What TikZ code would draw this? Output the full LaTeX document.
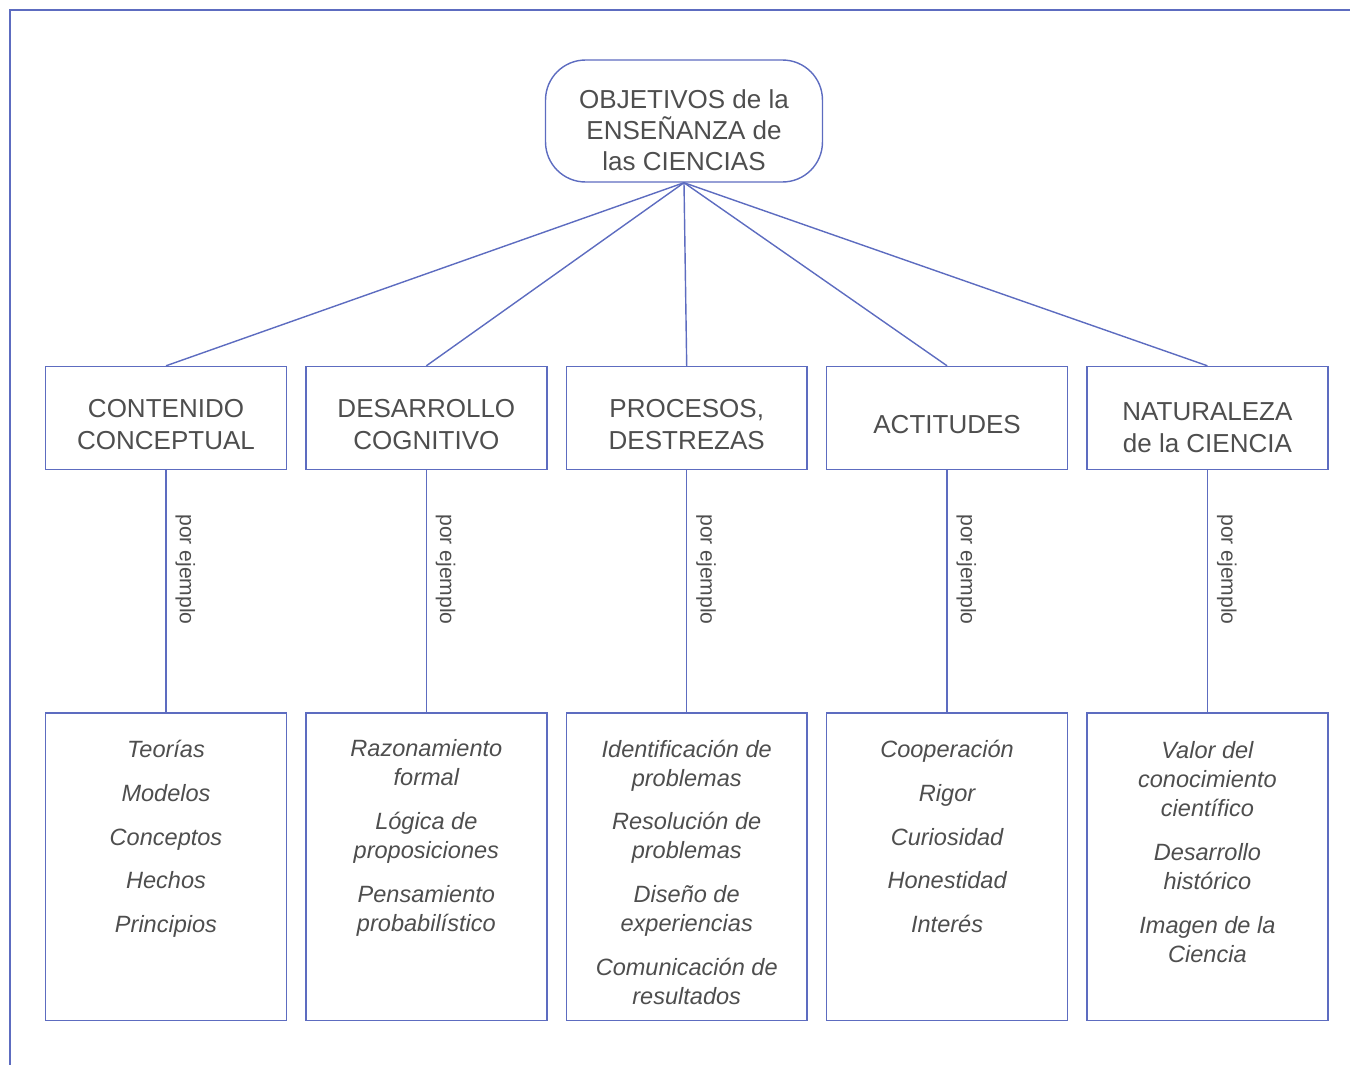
\documentclass[tikz,border=0pt]{standalone}
\usepackage{fontspec}
\setmainfont{Liberation Sans}
\usepackage{tikz}
\usetikzlibrary{positioning}
\definecolor{mapblue}{HTML}{5D6CC0}
\definecolor{mapgray}{HTML}{4E4E4E}
% taller first line, pushes the text a bit down in its box
\newcommand{\capgap}[1][18pt]{\rule{0pt}{#1}}

\begin{document}
\begin{tikzpicture}[x=0.02cm, y=-0.02cm,
      every path/.style={line width=0.8pt},
      goal/.style={draw=mapblue, rounded corners=0.8cm, minimum width=5.54cm,
                   minimum height=2.44cm, align=center, text=mapgray,
                   font=\fontsize{14.8}{17.6}\selectfont},
      area/.style={draw=mapblue, minimum width=4.82cm, minimum height=2.06cm,
                   align=center, text=mapgray, inner sep=0pt,
                   font=\fontsize{14.8}{18}\selectfont},
      ejbox/.style={draw=mapblue, minimum width=4.82cm, minimum height=6.16cm},
      ejtext/.style={align=center, text=mapgray, inner sep=0pt,
                     font=\fontsize{13.4}{16.4}\selectfont\itshape},
      ejlabel/.style={rotate=-90, anchor=south, inner sep=5pt, text=mapgray,
                      font=\fontsize{12}{14}\selectfont},
      link/.style={draw=mapblue}
    ]
    \useasboundingbox (0,0) rectangle (1350,1065);
    % frame
    \draw[mapblue] (10,1065) -- (10,10) -- (1350,10);

    \node[goal] (obj) at (684,121)
      {\capgap[21pt]OBJETIVOS de la\\ENSEÑANZA de\\las CIENCIAS};

    % areas
    \node[area] (a1) at (166,418) {\capgap CONTENIDO\\CONCEPTUAL};
    \node[area, right=0.36cm of a1] (a2) {\capgap DESARROLLO\\COGNITIVO};
    \node[area, right=0.36cm of a2] (a3) {\capgap PROCESOS,\\DESTREZAS};
    \node[area, right=0.36cm of a3] (a4) {\capgap ACTITUDES};
    \node[area, right=0.36cm of a4] (a5) {\capgap[21pt]NATURALEZA\\de la CIENCIA};

    % examples
    \foreach \i in {1,...,5} {
      \node[ejbox, below=4.84cm of a\i] (e\i) {};
      \draw[link] (obj.south) -- (a\i.north);
      \draw[link] (a\i) -- node[ejlabel, pos=0.41] {por ejemplo} (e\i);
    }

    \node[ejtext, below=0.54cm of e1.north] (t1)
      {Teorías\\[8.6pt] Modelos\\[8.6pt] Conceptos\\[8.6pt] Hechos\\[8.6pt] Principios};
    \node[ejtext, below=0.54cm of e2.north] (t2)
      {Razonamiento\\formal\\[8.6pt] Lógica de\\proposiciones\\[8.6pt]
       Pensamiento\\probabilístico};
    \node[ejtext, below=0.54cm of e3.north] (t3)
      {Identificación de\\problemas\\[8.6pt] Resolución de\\problemas\\[8.6pt]
       Diseño de\\experiencias\\[8.6pt] Comunicación de\\resultados};
    \node[ejtext, below=0.54cm of e4.north] (t4)
      {Cooperación\\[8.6pt] Rigor\\[8.6pt] Curiosidad\\[8.6pt] Honestidad\\[8.6pt] Interés};
    \node[ejtext, below=0.58cm of e5.north] (t5)
      {Valor del\\conocimiento\\científico\\[8.6pt] Desarrollo\\histórico\\[8.6pt]
       Imagen de la\\Ciencia};
  \end{tikzpicture}
\end{document}
